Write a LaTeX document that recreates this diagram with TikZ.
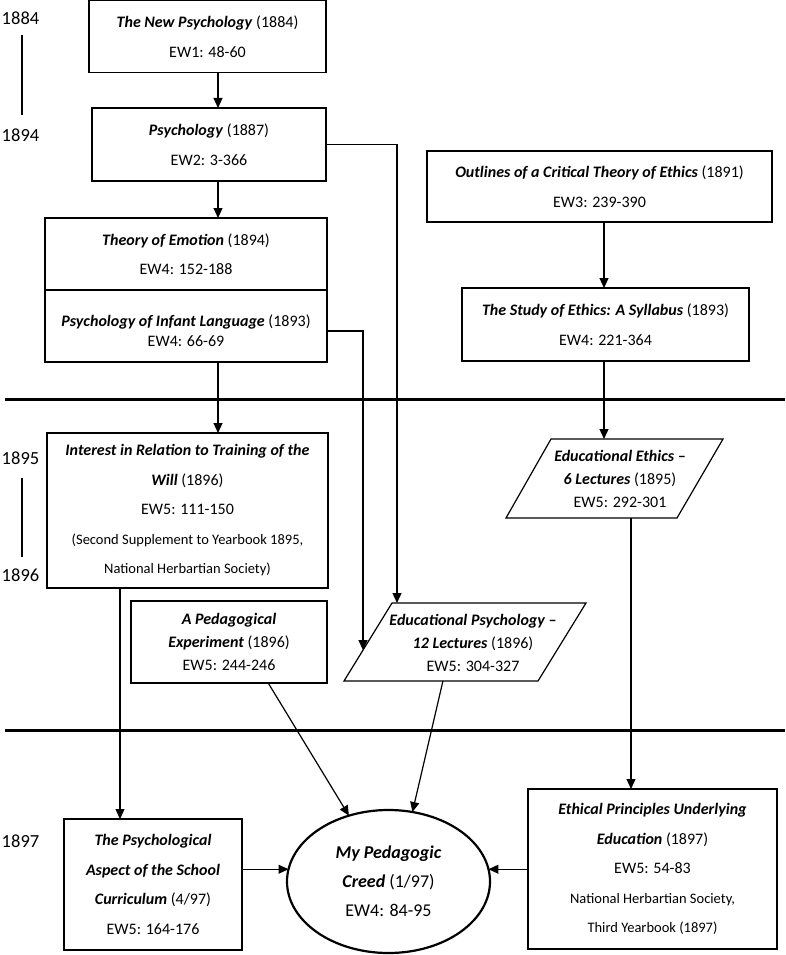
\documentclass[tikz,border=0pt]{standalone}
\usepackage{fontspec}
\setmainfont{Carlito}
\usetikzlibrary{arrows.meta,shapes.geometric,calc}
\newcommand\ttl[1]{\textbf{\textit{#1}}}
\newcommand\smf{\fontsize{14.5}{29}\selectfont}
\begin{document}
\begin{tikzpicture}[x=1pt,y=-1pt,
  every node/.style={inner sep=0pt,outer sep=0pt},
  bx/.style={draw,line width=1.2pt,align=center,font=\fontsize{16}{29.5}\selectfont},
  tx/.style={align=center,font=\fontsize{16}{23}\selectfont},
  arr/.style={line width=1.2pt,-{Triangle[length=10pt,width=9pt]}},
  con/.style={line width=1.2pt},
  divline/.style={line width=3pt},
  yr/.style={font=\fontsize{18.5}{20}\selectfont},
  yrline/.style={line width=2pt}]
\useasboundingbox (0,0) rectangle (785,955);

% year labels
\node[yr] (y1884) at (20.5,18) {1884};
\node[yr] (y1894) at (20.5,135) {1894};
\node[yr] (y1895) at (20.5,458) {1895};
\node[yr] (y1896) at (20.5,575) {1896};
\node[yr] (y1897) at (20.5,841) {1897};
\coordinate (t1a) at (22,35); \coordinate (t1b) at (22,115);
\coordinate (t2a) at (22,478); \coordinate (t2b) at (22,557);
\draw[yrline] (t1a) -- (t1b);
\draw[yrline] (t2a) -- (t2b);

% divider lines
\coordinate (d1l) at (5,399); \coordinate (d1r) at (785,399);
\coordinate (d2l) at (5,730); \coordinate (d2r) at (785,730);
\draw[divline] (d1l) -- (d1r);
\draw[divline] (d2l) -- (d2r);

% left column
\node[bx,minimum width=237pt,minimum height=72pt] (n1) at (207.5,36.5)
  {\ttl{The New Psychology} (1884)\\EW1: 48-60};
\node[bx,minimum width=234pt,minimum height=73pt] (n2) at (209,144.5)
  {\ttl{Psychology} (1887)\\EW2: 3-366};
\node[bx,minimum width=282pt,minimum height=72pt] (n3) at (186,254)
  {\ttl{Theory of Emotion} (1894)\\EW4: 152-188};
\node[bx,minimum width=282pt,minimum height=72pt] (n4) at (186,326) {};
\node[tx,font=\fontsize{16}{20}\selectfont] (n4t) at (186,331)
  {\ttl{Psychology of Infant Language} (1893)\\EW4: 66-69};
\node[bx,minimum width=281pt,minimum height=155pt] (n5) at (187.5,510.5)
  {\ttl{Interest in Relation to Training of the}\\\ttl{Will} (1896)\\EW5: 111-150\\{\smf (Second Supplement to Yearbook 1895,}\\{\smf National Herbartian Society)}};

% right column
\node[bx,minimum width=345pt,minimum height=71pt] (n6) at (599.5,186.5)
  {\ttl{Outlines of a Critical Theory of Ethics} (1891)\\EW3: 239-390};
\node[bx,minimum width=287pt,minimum height=73pt] (n7) at (605.5,324.5)
  {\ttl{The Study of Ethics: A Syllabus} (1893)\\EW4: 221-364};

% Educational Ethics parallelogram
\coordinate (eeTL) at (551,439); \coordinate (eeTR) at (723,439);
\coordinate (eeBR) at (677,518); \coordinate (eeBL) at (506,518);
\draw[con] (eeTL) -- (eeTR) -- (eeBR) -- (eeBL) -- cycle;
\node[tx] (ee) at (620,479)
  {\ttl{Educational Ethics --}\\\ttl{6 Lectures} (1895)\\EW5: 292-301};

% Educational Psychology parallelogram
\coordinate (epTL) at (392,603); \coordinate (epTR) at (586,603);
\coordinate (epBR) at (538,681); \coordinate (epBL) at (344,681);
\draw[con] (epTL) -- (epTR) -- (epBR) -- (epBL) -- cycle;
\node[tx] (ep) at (473,642.5)
  {\ttl{Educational Psychology --}\\\ttl{12 Lectures} (1896)\\EW5: 304-327};

% A Pedagogical Experiment
\node[bx,font=\fontsize{16}{23}\selectfont,minimum width=196pt,minimum height=82pt] (n10) at (229,642)
  {\ttl{A Pedagogical}\\\ttl{Experiment} (1896)\\EW5: 244-246};

% bottom row
\node[bx,minimum width=178pt,minimum height=131pt] (n11) at (153,884.5)
  {\ttl{The Psychological}\\\ttl{Aspect of the School}\\\ttl{Curriculum} (4/97)\\EW5: 164-176};
\node[draw,ellipse,line width=2.2pt,minimum width=203pt,minimum height=143pt,align=center,
  font=\fontsize{18}{29}\selectfont] (ell) at (388.5,881.5)
  {\ttl{My Pedagogic}\\\ttl{Creed} (1/97)\\EW4: 84-95};
\node[bx,minimum width=249pt,minimum height=160pt] (n12) at (652.5,869)
  {\ttl{Ethical Principles Underlying}\\\ttl{Education} (1897)\\EW5: 54-83\\{\smf National Herbartian Society,}\\{\smf Third Yearbook (1897)}};

% connectors
\coordinate (colA) at (218,0);
\coordinate (colB) at (397,0);
\coordinate (colC) at (604,0);
\coordinate (colD) at (631,0);
\coordinate (colE) at (120,0);
\draw[arr] (n1.south -| colA) -- (n2.north -| colA);
\draw[arr] (n2.south -| colA) -- (n3.north -| colA);
\draw[arr] (n4.south -| colA) -- (n5.north -| colA);
\draw[arr] (n2.east) -| (colB |- epTL);
\coordinate (epIn) at ($(epTL)!0.604!(epBL)$);
\draw[arr] ([yshift=-5pt]n4.east) -| (epIn);
\draw[arr] (n6.south -| colC) -- (n7.north -| colC);
\draw[arr] (n7.south -| colC) -- (colC |- eeTL);
\draw[arr] (colD |- eeBL) -- (n12.north -| colD);
\draw[arr] (n5.south -| colE) -- (n11.north -| colE);
\draw[arr] ($(n10.south west)!0.7!(n10.south east)$) -- (ell.121);
\draw[arr] ($(epBL)!0.51!(epBR)$) -- (ell.71);
\draw[arr] (n11.east |- ell.173) -- (ell.173);
\draw[arr] (n12.west |- ell.7) -- (ell.7);
\end{tikzpicture}
\end{document}
